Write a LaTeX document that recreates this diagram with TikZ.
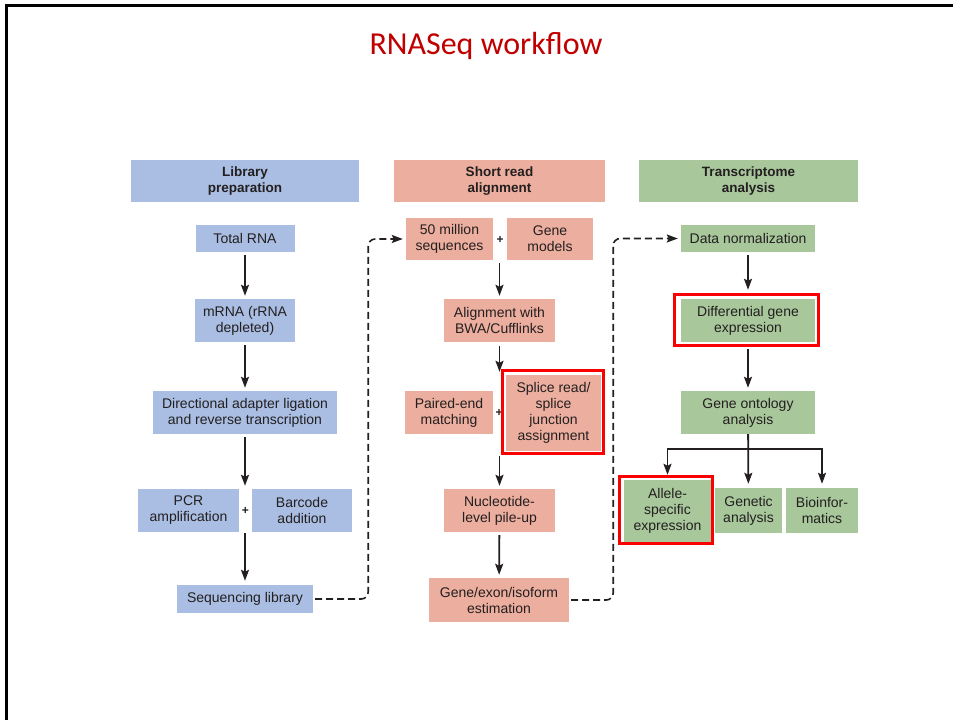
\documentclass[tikz,border=0pt]{standalone}
\usepackage{fontspec}
\setmainfont{Liberation Sans}
\newfontfamily\titlefont{Carlito}
\usetikzlibrary{arrows.meta}
\definecolor{libblue}{RGB}{169,190,226}
\definecolor{alnsalmon}{RGB}{236,174,158}
\definecolor{txgreen}{RGB}{168,199,155}
\definecolor{inkgrey}{RGB}{35,31,32}
\definecolor{hired}{RGB}{250,0,0}
\definecolor{titlered}{RGB}{192,0,0}
\tikzset{
  box/.style={rectangle, inner sep=0pt, align=center, text=inkgrey, font=\fontsize{14}{16}\selectfont},
  libbox/.style={box, fill=libblue},
  alnbox/.style={box, fill=alnsalmon},
  txbox/.style={box, fill=txgreen},
  colhead/.style={box, font=\fontsize{13.5}{16}\selectfont\bfseries},
  plussign/.style={text=inkgrey, inner sep=0pt, font=\fontsize{12}{12}\selectfont\bfseries},
  flowarrow/.style={-{Stealth[length=11pt,width=8pt,inset=2pt]}, line width=1.8pt, draw=inkgrey},
  loopback/.style={flowarrow, dash pattern=on 7pt off 4pt, rounded corners=7pt, line width=1.6pt},
  hilite/.style={draw=hired, line width=3pt}
}
\begin{document}
\begin{tikzpicture}[x=1pt, y=-1pt]
\useasboundingbox (0,0) rectangle (953,720);
\draw[line width=3pt] (6.5,720) -- (6.5,5.5) -- (953,5.5);
\node[anchor=base, text=titlered, font=\titlefont\fontsize{32}{38}\selectfont] (title) at (486,54) {RNASeq workflow};

\node[colhead, fill=libblue, minimum width=228pt, minimum height=42pt] (libhead) at (245,181) {Library\\preparation};
\node[libbox, minimum width=99pt, minimum height=27pt] (totalrna) at (245,238.5) {Total RNA};
\node[libbox, minimum width=100pt, minimum height=43pt] (mrna) at (245,320.5) {mRNA (rRNA\\depleted)};
\node[libbox, minimum width=184pt, minimum height=43pt] (adapter) at (245,412.5) {Directional adapter ligation\\and reverse transcription};
\node[libbox, minimum width=101pt, minimum height=43pt] (pcr) at (188.5,510.5) {PCR\\amplification};
\node[libbox, minimum width=100pt, minimum height=43pt] (barcode) at (302,510.5) {Barcode\\addition};
\node[plussign] (plusA) at (245.5,511) {+};
\node[libbox, minimum width=136pt, minimum height=28pt] (seqlib) at (245,599) {Sequencing library};

\node[colhead, fill=alnsalmon, minimum width=211pt, minimum height=42pt] (alnhead) at (499.5,181) {Short read\\alignment};
\node[alnbox, minimum width=87pt, minimum height=42pt] (reads) at (449.5,239) {50 million\\sequences};
\node[alnbox, minimum width=86pt, minimum height=42pt] (genemodels) at (550,239) {Gene\\models};
\node[plussign] (plusB) at (500,240) {+};
\node[alnbox, minimum width=111pt, minimum height=43pt] (align) at (499.5,320.5) {Alignment with\\BWA/Cufflinks};
\node[alnbox, minimum width=88pt, minimum height=43pt] (paired) at (449,412.5) {Paired-end\\matching};
\node[plussign] (plusC) at (499,413) {+};
\node[alnbox, minimum width=95pt, minimum height=76pt] (splice) at (553.5,413) {Splice read/\\splice\\junction\\assignment};
\node[alnbox, minimum width=111pt, minimum height=43pt] (pileup) at (499.5,510.5) {Nucleotide-\\level pile-up};
\node[alnbox, minimum width=140pt, minimum height=44pt] (estim) at (499,600) {Gene/exon/isoform\\estimation};

\node[colhead, fill=txgreen, minimum width=219pt, minimum height=42pt] (txhead) at (748.5,181) {Transcriptome\\analysis};
\node[txbox, minimum width=134pt, minimum height=27pt] (norm) at (748,238.5) {Data normalization};
\node[txbox, minimum width=134pt, minimum height=43pt] (diffexp) at (748,320.5) {Differential gene\\expression};
\node[txbox, minimum width=134pt, minimum height=43pt] (ontology) at (748,412.5) {Gene ontology\\analysis};
\node[txbox, minimum width=87pt, minimum height=62pt] (allele) at (667.5,511) {Allele-\\specific\\expression};
\node[txbox, minimum width=67pt, minimum height=45pt] (genetic) at (748.5,510.5) {Genetic\\analysis};
\node[txbox, minimum width=72pt, minimum height=45pt] (bioinfo) at (822,510.5) {Bioinfor-\\matics};

\draw[hilite] ([shift={(-3.5,-4.5)}]splice.north west) rectangle ([shift={(2.5,2.5)}]splice.south east);
\draw[hilite] ([shift={(-6.5,-4.5)}]diffexp.north west) rectangle ([shift={(3.5,3.5)}]diffexp.south east);
\draw[hilite] ([shift={(-4.5,-3.5)}]allele.north west) rectangle ([shift={(1.5,1.5)}]allele.south east);

\draw[flowarrow, shorten <=3pt, shorten >=3pt] (totalrna) -- (mrna);
\draw[flowarrow, shorten <=3pt, shorten >=3pt] (mrna) -- (adapter);
\draw[flowarrow, shorten <=3pt, shorten >=3pt] (adapter.south) -- (adapter.south |- pcr.north);
\draw[flowarrow, shorten <=1pt, shorten >=4pt] (adapter.south |- pcr.south) -- (seqlib.north);

\draw[flowarrow, shorten <=3pt, shorten >=3pt] (align.north |- reads.south) -- (align.north);
\draw[flowarrow, shorten <=4pt, shorten >=3pt] (align) -- (align.south |- splice.north);
\draw[flowarrow, shorten <=5pt, shorten >=3pt] (align.south |- splice.south) -- (pileup.north);
\draw[flowarrow, shorten <=3pt, shorten >=3pt] (pileup) -- (estim);

\draw[flowarrow, shorten <=3pt, shorten >=9pt] (norm) -- (diffexp);
\draw[flowarrow, shorten <=7pt, shorten >=3pt] (diffexp) -- (ontology);
\draw[flowarrow, shorten >=4pt] (ontology) -- (genetic);
\draw[flowarrow, shorten >=5pt] (ontology.south) ++(0,15) -| (allele.north);
\draw[flowarrow, shorten >=4pt] (ontology.south) ++(0,15) -| (bioinfo.north);

\draw[loopback, shorten <=2pt, shorten >=3pt] (seqlib.east) -- ++(55,0) |- (reads.west);
\draw[loopback, shorten <=2pt, shorten >=3pt] (estim.east) -- ++(44,0) |- (norm.west);
\end{tikzpicture}
\end{document}
